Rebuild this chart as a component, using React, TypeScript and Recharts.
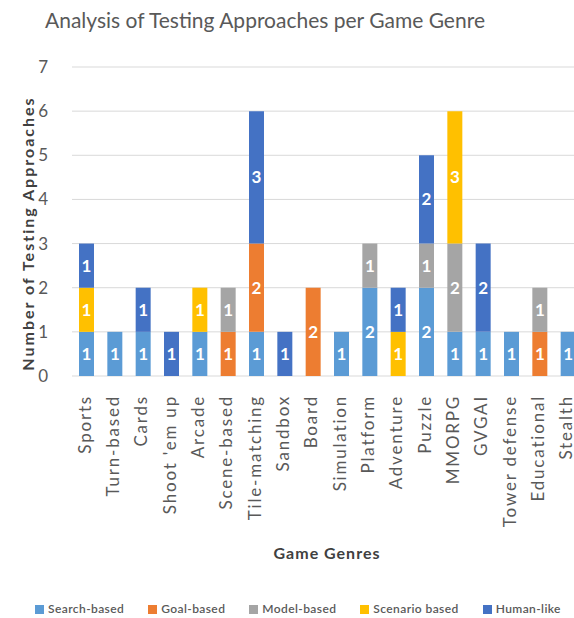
import { BarChart, Bar, XAxis, YAxis, CartesianGrid, Legend, LabelList, Label } from 'recharts';

const genres = [
    'Sports', 'Turn-based', 'Cards', "Shoot 'em up", 'Arcade', 'Scene-based', 'Tile-matching', 'Sandbox', 'Board',
    'Simulation', 'Platform', 'Adventure', 'Puzzle', 'MMORPG', 'GVGAI', 'Tower defense', 'Educational', 'Stealth',
];
const searchBased = [1, 1, 1, null, 1, null, 1, null, null, 1, 2, null, 2, 1, 1, 1, null, 1];
const goalBased = [null, null, null, null, null, 1, 2, null, 2, null, null, null, null, null, null, null, 1, null];
const modelBased = [null, null, null, null, null, 1, null, null, null, null, 1, null, 1, 2, null, null, 1, null];
const scenarioBased = [1, null, null, null, 1, null, null, null, null, null, null, 1, null, 3, null, null, null, null];
const humanLike = [1, null, 1, 1, null, null, 3, 1, null, null, null, 1, 2, null, 2, null, null, null];
const yTicks = [0, 1, 2, 3, 4, 5, 6, 7];

const data = genres.map((genre, i) => ({
    genre,
    search: searchBased[i],
    goal: goalBased[i],
    model: modelBased[i],
    scenario: scenarioBased[i],
    human: humanLike[i],
}));

const series = [
    { key: 'search', name: 'Search-based', color: '#5B9BD5' },
    { key: 'goal', name: 'Goal-based', color: '#ED7D31' },
    { key: 'model', name: 'Model-based', color: '#A5A5A5' },
    { key: 'scenario', name: 'Scenario based', color: '#FFC000' },
    { key: 'human', name: 'Human-like', color: '#4472C4' },
];

const font = 'Lato, "Open Sans", sans-serif';

// rotated genre label, reads bottom-to-top and ends just under the axis
function GenreTick({ x, y, payload }: any) {
    const tx = x - 2;
    const ty = y + 11;
    return (
        <text
            x={tx}
            y={ty}
            transform={`rotate(-90, ${tx}, ${ty})`}
            textAnchor="end"
            dominantBaseline="central"
            fontSize={17}
            letterSpacing={1.8}
            fill="#595959"
            fontFamily={font}
        >
            {payload.value}
        </text>
    );
}

function YTitle({ viewBox }: any) {
    const cx = 27;
    const cy = viewBox.y + viewBox.height / 2 + 12;
    return (
        <text
            x={cx}
            y={cy}
            transform={`rotate(-90, ${cx}, ${cy})`}
            textAnchor="middle"
            dominantBaseline="central"
            fontSize={16}
            letterSpacing={2}
            fontWeight="bold"
            fill="#404040"
            fontFamily={font}
        >
            Number of Testing Approaches
        </text>
    );
}

export default function App() {
    return (
        <div style={{ position: 'absolute', left: 0, top: 0, width: 574, height: 618, overflow: 'hidden', background: '#fff', fontFamily: font }}>
            <div style={{ position: 'absolute', top: 7, left: 0, width: 530, textAlign: 'center', fontSize: 21, color: '#595959' }}>
                Analysis of Testing Approaches per Game Genre
            </div>
            <BarChart width={582} height={618} data={data} margin={{ top: 67, right: 0, left: 0, bottom: 2 }} barSize={15}>
                <CartesianGrid vertical={false} stroke="#d9d9d9" />
                <XAxis
                    dataKey="genre"
                    interval={0}
                    height={225}
                    tickLine={false}
                    axisLine={false}
                    tick={<GenreTick />}
                    label={{ value: 'Game Genres', position: 'insideBottom', offset: 42, fontSize: 16, letterSpacing: 1, fontWeight: 'bold', fill: '#404040' }}
                />
                <YAxis
                    domain={[0, 7]}
                    ticks={yTicks}
                    width={72}
                    tickLine={false}
                    axisLine={false}
                    tick={{ fontSize: 17, fill: '#595959', fontFamily: font }}
                    tickMargin={18}
                >
                    <Label content={<YTitle />} />
                </YAxis>
                <Legend
                    verticalAlign="bottom"
                    iconType="square"
                    iconSize={9}
                    itemSorter={(item: any) => series.findIndex((s) => s.key === item.dataKey)}
                    wrapperStyle={{ fontSize: 12, width: 574, left: 23, letterSpacing: 0.4 }}
                    formatter={(value: string) => <span style={{ color: '#595959', marginRight: 14, fontWeight: 600 }}>{value}</span>}
                />
                {series.map((s) => (
                    <Bar key={s.key} dataKey={s.key} name={s.name} stackId="a" fill={s.color} isAnimationActive={false}>
                        <LabelList
                            dataKey={s.key}
                            position="center"
                            fill="#fff"
                            fontSize={17}
                            fontWeight="bold"
                            formatter={(v: any) => (v ? v : '')}
                        />
                    </Bar>
                ))}
            </BarChart>
        </div>
    );
}
